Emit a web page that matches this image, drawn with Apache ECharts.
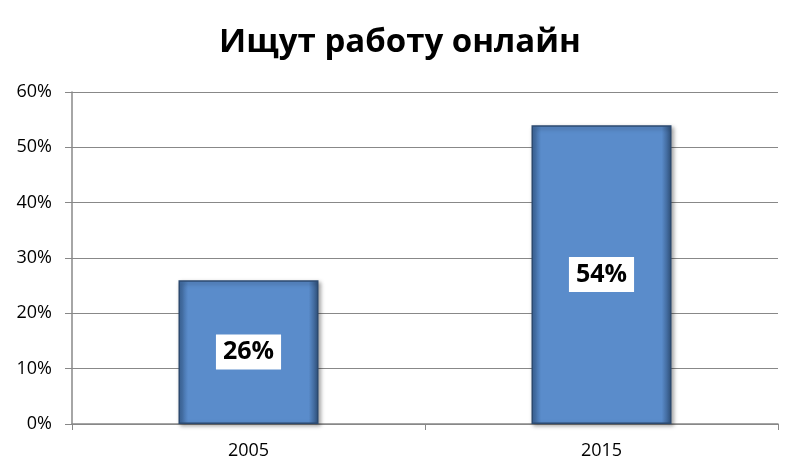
<!DOCTYPE html>
<html>
<head>
<meta charset="utf-8">
<script src="https://cdn.jsdelivr.net/npm/echarts@6/dist/echarts.min.js"></script>
<style>
  html, body { margin: 0; padding: 0; background: #fff; }
  #chart { width: 800px; height: 475px; }
</style>
</head>
<body>
<div id="chart"></div>
<script>
var years = ['2005', '2015'];
var share = [26, 54];   // % ищущих работу онлайн

var chart = echarts.init(document.getElementById('chart'));

var barFill = new echarts.graphic.LinearGradient(0, 0, 1, 0, [
  { offset: 0, color: '#3d679c' },
  { offset: 0.07, color: '#5a8ccb' },
  { offset: 0.93, color: '#5a8ccb' },
  { offset: 1, color: '#2f507a' }
]);

var option = {
  backgroundColor: '#fff',
  title: {
    text: 'Ищут работу онлайн',
    left: 'center',
    top: 21,
    textStyle: { fontFamily: 'Open Sans', fontWeight: 'bold', fontSize: 33, color: '#000' }
  },
  grid: { left: 72, right: 22, top: 92, bottom: 51 },
  xAxis: {
    type: 'category',
    data: years,
    axisLine: { lineStyle: { color: '#888', width: 1.5 } },
    axisTick: { show: true, alignWithLabel: false, length: 6, lineStyle: { color: '#888' } },
    axisLabel: { fontFamily: 'Open Sans', fontSize: 18, color: '#000', margin: 18 }
  },
  yAxis: {
    type: 'value',
    min: 0,
    max: 60,
    interval: 10,
    axisLine: { show: true, lineStyle: { color: '#888', width: 1.5 } },
    axisTick: { show: true, length: 7, lineStyle: { color: '#888' } },
    axisLabel: { fontFamily: 'Open Sans', fontSize: 18, color: '#000', margin: 20, formatter: '{value}%' },
    splitLine: { lineStyle: { color: '#888', width: 1.2 } }
  },
  series: [
    {
      type: 'bar',
      data: share,
      barWidth: 140,
      silent: true,
      itemStyle: {
        color: barFill,
        borderColor: '#2c4a70',
        borderWidth: 1.5,
        shadowColor: 'rgba(0,0,0,0.35)',
        shadowBlur: 4,
        shadowOffsetX: 2,
        shadowOffsetY: 2
      },
      label: {
        show: true,
        position: 'inside',
        formatter: '{c}%',
        fontFamily: 'Open Sans',
        fontWeight: 'bold',
        fontSize: 25,
        color: '#000',
        backgroundColor: '#fff',
        padding: [6, 7, 4, 7]
      }
    }
  ]
};

chart.setOption(option);
</script>
</body>
</html>
